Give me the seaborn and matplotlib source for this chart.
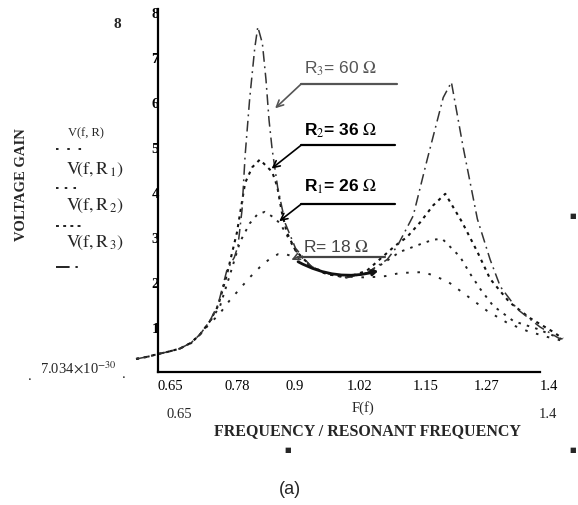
import matplotlib
matplotlib.use("Agg")
import matplotlib.pyplot as plt
import seaborn as sns
import pandas as pd
from matplotlib.lines import Line2D

# ---------------- data ----------------
f_R = [0.607, 0.63, 0.65, 0.67, 0.693, 0.715, 0.733, 0.752, 0.77, 0.79, 0.81, 0.83, 0.85, 0.87,
       0.886, 0.90, 0.92, 0.95, 0.98, 1.02, 1.06, 1.096, 1.125, 1.17, 1.19, 1.22, 1.257, 1.296,
       1.336, 1.375, 1.414, 1.445]
v_R = [0.29, 0.34, 0.40, 0.45, 0.52, 0.64, 0.84, 1.08, 1.28, 1.58, 1.84, 2.10, 2.33, 2.52,
       2.62, 2.62, 2.55, 2.35, 2.20, 2.12, 2.10, 2.13, 2.20, 2.22, 2.15, 2.00, 1.69, 1.36,
       1.09, 0.91, 0.78, 0.69]

f_R1 = [0.607, 0.63, 0.65, 0.67, 0.693, 0.715, 0.733, 0.752, 0.772, 0.791, 0.811, 0.83, 0.845,
        0.86, 0.875, 0.89, 0.905, 0.92, 0.95, 0.98, 1.02, 1.06, 1.09, 1.125, 1.165, 1.19, 1.208,
        1.243, 1.263, 1.283, 1.308, 1.348, 1.394, 1.445]
v_R1 = [0.29, 0.34, 0.40, 0.45, 0.52, 0.65, 0.84, 1.12, 1.47, 2.15, 2.89, 3.30, 3.50,
        3.56, 3.45, 3.30, 3.00, 2.70, 2.35, 2.18, 2.10, 2.20, 2.40, 2.67, 2.84, 2.94, 2.96,
        2.56, 2.18, 1.84, 1.47, 1.13, 0.96, 0.72]

f_R2 = [0.607, 0.63, 0.65, 0.67, 0.693, 0.715, 0.733, 0.752, 0.768, 0.785, 0.805, 0.821, 0.835,
        0.85, 0.865, 0.874, 0.884, 0.893, 0.903, 0.92, 0.95, 0.98, 1.02, 1.06, 1.09, 1.115, 1.139,
        1.165, 1.19, 1.214, 1.247, 1.277, 1.302, 1.34, 1.38, 1.426, 1.445]
v_R2 = [0.29, 0.34, 0.40, 0.45, 0.52, 0.65, 0.84, 1.13, 1.47, 2.15, 3.10, 4.20, 4.55,
        4.72, 4.55, 4.45, 4.13, 3.56, 3.10, 2.70, 2.35, 2.18, 2.10, 2.25, 2.55, 2.80, 3.00,
        3.33, 3.70, 3.96, 3.33, 2.67, 2.07, 1.55, 1.20, 0.89, 0.74]

f_R3 = [0.607, 0.63, 0.65, 0.67, 0.693, 0.715, 0.733, 0.752, 0.768, 0.785, 0.80, 0.807, 0.815,
        0.821, 0.83, 0.84, 0.846, 0.855, 0.862, 0.868, 0.874, 0.885, 0.90, 0.92, 0.95, 0.98, 1.02,
        1.06, 1.10, 1.12, 1.151, 1.178, 1.21, 1.226, 1.249, 1.277, 1.302, 1.322, 1.355, 1.40, 1.44]
v_R3 = [0.29, 0.34, 0.40, 0.45, 0.52, 0.65, 0.84, 1.14, 1.50, 2.25, 2.55, 2.80, 3.60,
        4.80, 6.07, 7.20, 7.67, 7.30, 6.50, 5.60, 4.96, 4.10, 3.30, 2.75, 2.35, 2.20, 2.10,
        2.20, 2.50, 2.80, 3.47, 4.70, 6.10, 6.44, 5.00, 3.40, 2.50, 1.90, 1.40, 1.00, 0.73]

x_ticks = [0.65, 0.78, 0.9, 1.02, 1.15, 1.27, 1.4]
x_tick_labels = ["0.65", "0.78", "0.9", "1.02", "1.15", "1.27", "1.4"]
y_ticks = [1, 2, 3, 4, 5, 6, 7, 8]
y_tick_labels = ["1", "2", "3", "4", "5", "6", "7", "8"]

series_names = ["R", "R1", "R2", "R3"]
series_labels = [r"R= 18 $\Omega$", r"R$_1$= 26 $\Omega$", r"R$_2$= 36 $\Omega$", r"R$_3$= 60 $\Omega$"]

# ---------------- styling ----------------
sns.set_style("white")
plt.rcParams["font.family"] = ["Liberation Serif", "DejaVu Serif"]
plt.rcParams["mathtext.fontset"] = "stix"

W, H = 578, 506
fig = plt.figure(figsize=(W / 100, H / 100), dpi=100)

def px(x, y):
    return (x / W, 1 - y / H)

ax = fig.add_axes([132.5 / W, (H - 373) / H, 433 / W, 8.1 * 45 / H])
ax.set_facecolor("white")

frames = []
for name, fx, vy in [("R", f_R, v_R), ("R1", f_R1, v_R1), ("R2", f_R2, v_R2), ("R3", f_R3, v_R3)]:
    frames.append(pd.DataFrame({"f": fx, "V": vy, "curve": name}))
df = pd.concat(frames, ignore_index=True)

dash_map = {"R": (1.3, 4.5), "R1": (1.3, 3.2), "R2": (1.5, 2.2), "R3": (7, 3, 1.2, 3)}
lw_map = {"R": 1.4, "R1": 1.4, "R2": 1.5, "R3": 1.1}
col_map = {"R": "#222222", "R1": "#222222", "R2": "#111111", "R3": "#333333"}
for name in series_names:
    sub = df[df["curve"] == name]
    sns.lineplot(data=sub, x="f", y="V", ax=ax, color=col_map[name], lw=lw_map[name],
                 dashes=False, sort=False, legend=False)
    ax.lines[-1].set_dashes(dash_map[name])

ax.set_xlim(0.6, 1.45)
ax.set_ylim(0, 8.1)
ax.set_xlabel("")
ax.set_ylabel("")

for s in ["top", "right"]:
    ax.spines[s].set_visible(False)
ax.spines["left"].set_position(("data", 0.65))
ax.spines["left"].set_bounds(0, 8.07)
ax.spines["bottom"].set_position(("data", 0))
ax.spines["bottom"].set_bounds(0.65, 1.4)
for s in ["left", "bottom"]:
    ax.spines[s].set_linewidth(1.6)
    ax.spines[s].set_color("black")

ax.set_xticks(x_ticks)
ax.set_xticklabels(x_tick_labels, fontsize=10.5)
for lab in ax.get_xticklabels():
    lab.set_horizontalalignment("left")
ax.set_yticks(y_ticks)
ax.set_yticklabels(y_tick_labels, fontsize=10.5, fontweight="bold")
ax.tick_params(axis="x", direction="inout", length=8, width=1.3, pad=1, colors="black")
ax.tick_params(axis="y", direction="inout", length=11, width=1.3, pad=-6, colors="black")

# ---------------- annotations with arrows ----------------
ann_text_xy = [(0.935, 2.62), (0.937, 3.93), (0.937, 5.17), (0.937, 6.55)]
ann_line = [(0.925, 1.096, 2.56), (0.931, 1.116, 3.73), (0.931, 1.116, 5.04), (0.931, 1.120, 6.40)]
ann_tip = [(0.912, 2.49), (0.888, 3.35), (0.873, 4.52), (0.880, 5.86)]
ann_weight = ["normal", "bold", "bold", "normal"]
ann_color = ["#444444", "black", "black", "#555555"]
for lab, (tx, ty), (l0, l1, ly), (ax_, ay_), wgt, c in zip(series_labels, ann_text_xy, ann_line,
                                                          ann_tip, ann_weight, ann_color):
    ax.text(tx, ty, lab, fontsize=12.5, fontweight=wgt, color=c,
            family=["Liberation Sans", "DejaVu Sans"], va="bottom", ha="left")
    ax.plot([l0, l1], [ly, ly], color=c, lw=1.6)
    ax.annotate("", xy=(ax_, ay_), xytext=(l0, ly),
                arrowprops=dict(arrowstyle="->", color=c, lw=1.2, shrinkA=0, shrinkB=0,
                                mutation_scale=12))

# thick curved connector under the R label (as in the reference)
ax.annotate("", xy=(1.083, 2.25), xytext=(0.925, 2.45),
            arrowprops=dict(arrowstyle="-|>", color="#111111", lw=2.0, shrinkA=0, shrinkB=0,
                            mutation_scale=8, connectionstyle="arc3,rad=0.2"))

# ---------------- texts around the plot ----------------
fig.text(*px(22, 185), "VOLTAGE GAIN", rotation=90, fontsize=10.5, fontweight="bold",
         ha="center", va="center")
fig.text(*px(117, 25), "8", fontsize=11, ha="center", va="center", fontweight="bold")
fig.text(*px(78, 368), r"7.034$\!\times\!$10$^{-30}$", fontsize=10.5, ha="center", va="center")
fig.text(*px(30, 376), ".", fontsize=11, ha="center", va="center")
fig.text(*px(124, 375), ".", fontsize=11, ha="center", va="center")

fig.text(*px(86, 133), "V(f, R)", fontsize=9, ha="center", va="center")
fig.text(*px(95, 170), r"$\mathrm{V}\!\left(\mathrm{f},\mathrm{R}_{\,1}\right)$", fontsize=13,
         ha="center", va="center")
fig.text(*px(95, 206), r"$\mathrm{V}\!\left(\mathrm{f},\mathrm{R}_{\,2}\right)$", fontsize=13,
         ha="center", va="center")
fig.text(*px(95, 243), r"$\mathrm{V}\!\left(\mathrm{f},\mathrm{R}_{\,3}\right)$", fontsize=13,
         ha="center", va="center")

legend_y = [150, 189, 227, 268]
for name, yy in zip(series_names, legend_y):
    x0, y0 = px(56, yy)
    x1, _ = px(82, yy)
    ln = Line2D([x0, x1], [y0, y0], transform=fig.transFigure, color="#222222", lw=1.4)
    ln.set_dashes(dash_map[name])
    fig.add_artist(ln)

fig.text(*px(179, 415), "0.65", fontsize=10.5, ha="center", va="center")
fig.text(*px(363, 408), "F(f)", fontsize=10.5, ha="center", va="center")
fig.text(*px(548, 414), "1.4", fontsize=10.5, ha="center", va="center")
fig.text(*px(368, 431), "FREQUENCY / RESONANT FREQUENCY", fontsize=11.5, fontweight="bold",
         ha="center", va="center")
fig.text(*px(290, 490), "(a)", fontsize=13, ha="center", va="center",
         family=["Liberation Sans", "DejaVu Sans"])

for (sx, sy) in [(288, 450), (573, 450), (573, 216)]:
    fig.text(*px(sx, sy), "\u25a0", fontsize=5, ha="center", va="center",
             family=["DejaVu Sans"])

fig.savefig("out.png", dpi=100, facecolor="white")
